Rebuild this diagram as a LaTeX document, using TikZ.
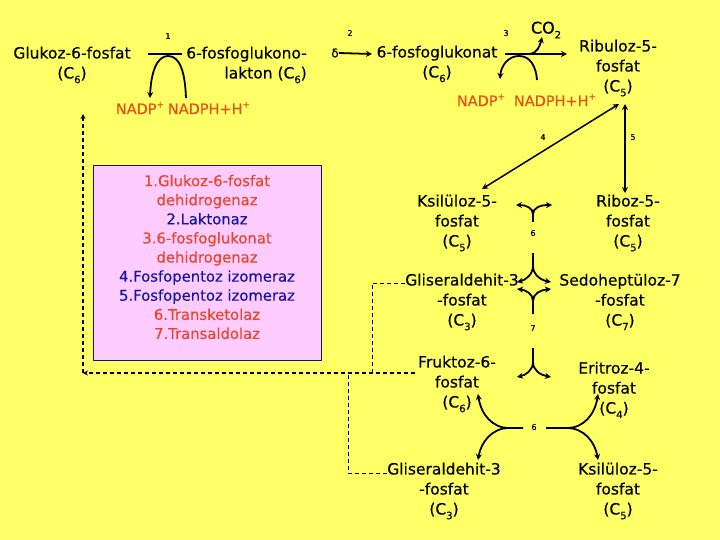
\documentclass[tikz,border=0pt]{standalone}
\usepackage{fontspec}
\setmainfont{DejaVu Sans}[FakeBold=0.3]
\usetikzlibrary{arrows.meta}
\definecolor{bgy}{RGB}{255,255,102}
\definecolor{pinkb}{RGB}{255,204,255}
\definecolor{navyb}{RGB}{20,20,110}
\definecolor{redt}{RGB}{232,70,40}
\definecolor{bluet}{RGB}{20,20,170}
\definecolor{nadpc}{RGB}{230,80,20}
\newcommand{\mysup}[1]{\raisebox{0.45em}{\fontsize{9}{9}\selectfont #1}}
\newcommand{\mysub}[1]{\raisebox{-0.3em}{\fontsize{10}{10}\selectfont #1}}
\begin{document}
\begin{tikzpicture}[x=1pt,y=-1pt,
  lbl/.style={font=\fontsize{15.5}{20}\selectfont, align=center, inner sep=0pt},
  num/.style={font=\fontsize{8}{9}\selectfont, inner sep=0pt},
  nadp/.style={font=\fontsize{14.5}{16}\selectfont, text=nadpc, inner sep=0pt},
  rx/.style={line width=1.8pt},
  rxa/.style={rx, -{Stealth[length=6pt,width=6pt]}},
  rxb/.style={line width=1.5pt, {Stealth[length=6pt,width=6pt]}-{Stealth[length=6pt,width=6pt]}},
  dshA/.style={line width=1.5pt, dash pattern=on 4pt off 3pt, -{Stealth[length=5pt,width=5pt]}},
  dshB/.style={line width=0.9pt, dash pattern=on 4pt off 3pt}
]
\useasboundingbox (0,0) rectangle (720,540);
\fill[bgy] (0,0) rectangle (720,540);

% enzyme box
\node[draw=navyb, fill=pinkb, line width=1pt, minimum width=228pt, minimum height=194pt, inner sep=0pt] (box) at (207,263) {};
\node[font=\fontsize{14.8}{19.1}\selectfont, align=center, inner sep=0pt] (enz) at (207,257) {%
\textcolor{redt}{1.Glukoz-6-fosfat}\\
\textcolor{redt}{dehidrogenaz}\\
\textcolor{bluet}{2.Laktonaz}\\
\textcolor{redt}{3.6-fosfoglukonat}\\
\textcolor{redt}{dehidrogenaz}\\
\textcolor{bluet}{4.Fosfopentoz izomeraz}\\
\textcolor{bluet}{5.Fosfopentoz izomeraz}\\
\textcolor{redt}{6.Transketolaz}\\
\textcolor{redt}{7.Transaldolaz}};

% metabolites
\node[lbl] (g6p) at (72,65) {Glukoz-6-fosfat\\(C\mysub{6})};
\node[lbl, align=right, anchor=east] (lakton) at (307,65) {6-fosfoglukono-\\lakton (C\mysub{6})};
\node[lbl] (fgk) at (437,64) {6-fosfoglukonat\\(C\mysub{6})};
\node[lbl] (rib) at (618,68) {Ribuloz-5-\\fosfat\\(C\mysub{5})};
\node[lbl] (ksil) at (457,223) {Ksilüloz-5-\\fosfat\\(C\mysub{5})};
\node[lbl] (ribz) at (628,223) {Riboz-5-\\fosfat\\(C\mysub{5})};
\node[lbl] (glis) at (462,302) {Gliseraldehit-3\\-fosfat\\(C\mysub{3})};
\node[lbl] (sedo) at (620,302) {Sedoheptüloz-7\\-fosfat\\(C\mysub{7})};
\node[lbl] (fruk) at (457,384) {Fruktoz-6-\\fosfat\\(C\mysub{6})};
\node[lbl] (erit) at (614,390) {Eritroz-4-\\fosfat\\(C\mysub{4})};
\node[lbl] (glis2) at (444,491) {Gliseraldehit-3\\-fosfat\\(C\mysub{3})};
\node[lbl] (ksil2) at (618,491) {Ksilüloz-5-\\fosfat\\(C\mysub{5})};

\node[font=\fontsize{16}{18}\selectfont, inner sep=0pt] (co2) at (546,30) {CO\mysub{2}};
\node[font=\fontsize{12}{14}\selectfont, inner sep=0pt] (delta) at (335,53) {δ};

\node[nadp] (nadp1) at (140,108) {NADP\mysup{+}};
\node[nadp] (nadph1) at (209,108) {NADPH+H\mysup{+}};
\node[nadp] (nadp2) at (481,100) {NADP\mysup{+}};
\node[nadp] (nadph2) at (555,100) {NADPH+H\mysup{+}};

% step numbers
\node[num] (n1) at (168,36) {1};
\node[num] (n2) at (350,33) {2};
\node[num] (n3) at (506,33) {3};
\node[num] (n4) at (543,137) {4};
\node[num] (n5) at (633,137) {5};
\node[num] (n6a) at (533,233) {6};
\node[num] (n7) at (533,328) {7};
\node[num] (n6b) at (534,427) {6};

% reaction 1
\coordinate (r1a) at (148,54); \coordinate (r1b) at (182,54);
\draw[rx] (r1a) -- (r1b);
\coordinate (r1s) at (186,98); \coordinate (r1t) at (168,56); \coordinate (r1e) at (150,98);
\draw[rxa] (r1s) .. controls (185,72) and (180,56) .. (r1t) .. controls (157,56) and (151,72) .. (r1e);

% reaction 2
\coordinate (r2e) at (372,54);
\draw[rxa] (delta.east) -- (r2e);

% reaction 3
\coordinate (r3a) at (505,54); \coordinate (r3b) at (567,54);
\draw[rxa] (r3a) -- (r3b);
\coordinate (r3c) at (530,54); \coordinate (r3d) at (542,37);
\draw[rxa] (r3c) .. controls (537,53) and (540,46) .. (r3d);
\coordinate (r3s) at (537,80); \coordinate (r3t) at (519,56); \coordinate (r3e) at (500,79);
\draw[rxa] (r3s) .. controls (536,66) and (530,56) .. (r3t) .. controls (508,56) and (501,66) .. (r3e);

% reactions 4 and 5
\coordinate (a4s) at (482,189); \coordinate (a4e) at (619,104);
\draw[rxb] (a4s) -- (a4e);
\coordinate (a5s) at (625,104); \coordinate (a5e) at (625,193);
\draw[rxb] (a5s) -- (a5e);

% transketolase 6 (upper)
\coordinate (y6s) at (533,222); \coordinate (y6m) at (533,214);
\draw[rxa] (y6s) -- (y6m) .. controls (533,208) and (526,205) .. (516,205);
\draw[rxa] (y6m) .. controls (533,208) and (540,205) .. (552,205);

% transaldolase 7
\coordinate (y7a) at (533,253); \coordinate (y7b) at (533,266);
\draw[rxa] (y7a) -- (y7b) .. controls (533,274) and (526,280) .. (517,282);
\draw[rxa] (y7b) .. controls (533,274) and (540,280) .. (551,282);
\coordinate (y7c) at (533,314); \coordinate (y7d) at (533,301);
\draw[rxa] (y7c) -- (y7d) .. controls (533,294) and (526,290) .. (517,289);
\draw[rxa] (y7d) .. controls (533,294) and (540,290) .. (551,289);

% transketolase 6 (lower)
\coordinate (y8a) at (533,348); \coordinate (y8b) at (533,362);
\draw[rxa] (y8a) -- (y8b) .. controls (533,370) and (526,375) .. (517,377);
\draw[rxa] (y8b) .. controls (533,370) and (540,375) .. (551,377);

% bottom transketolase
\coordinate (b6a) at (523,428); \coordinate (b6b) at (509,428);
\draw[rxa] (b6a) -- (b6b) .. controls (492,428) and (481,414) .. (478,394);
\draw[rxa] (b6b) .. controls (492,428) and (481,442) .. (478,460);
\coordinate (b6c) at (546,428); \coordinate (b6d) at (567,428);
\draw[rxa] (b6c) -- (b6d) .. controls (584,428) and (595,414) .. (598,394);
\draw[rxa] (b6d) .. controls (584,428) and (595,442) .. (598,460);

% dashed return lines
\coordinate (d1s) at (415,373); \coordinate (d1e) at (83,373); \coordinate (d2e) at (83,114);
\draw[dshA] (d1s) -- (d1e);
\draw[dshA] (d1e) -- (d2e);
\coordinate (d3s) at (405,283); \coordinate (d3c) at (372,283); \coordinate (d3e) at (372,373);
\draw[dshB] (d3s) -- (d3c) -- (d3e);
\coordinate (d4s) at (387,473); \coordinate (d4c) at (348,473); \coordinate (d4e) at (348,373);
\draw[dshB] (d4s) -- (d4c) -- (d4e);
\end{tikzpicture}
\end{document}
